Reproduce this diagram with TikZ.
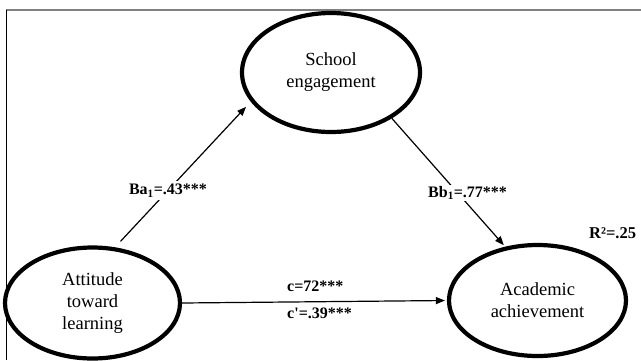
\documentclass[tikz,border=0pt]{standalone}
\usepackage{fontspec}
\setmainfont{Liberation Serif}
\usetikzlibrary{arrows.meta, shapes.geometric}

\begin{document}
\begin{tikzpicture}[x = 1pt, y = -1pt]
\tikzstyle{VarStyle}=[shape = ellipse,
							line width = 4.2pt,
							inner sep = 0pt,
							align = center,
							font = \fontsize{18.5}{22}\selectfont,
                         					draw]
\tikzstyle{PathStyle}=[line width = 1.2pt,
							-{Triangle[length = 9pt, width = 7pt]}]
\tikzstyle{CoefStyle}=[font = \fontsize{16}{18}\selectfont\bfseries,
							inner sep = 3pt,
							fill = white]
\useasboundingbox (0,0) rectangle (641,360);
\clip (0,0) rectangle (641,360);
% frame
\draw[gray, line width = 1.4pt] (6,10) -- (641,10);
\draw[line width = 1.2pt] (6.5,9.5) -- (6.5,360);
% variables
\node[VarStyle, minimum width = 178pt, minimum height = 119pt] (sch) at (331,72.5) {School\\engagement};
\node[VarStyle, minimum width = 175pt, minimum height = 111pt] (att) at (92.5,303) {Attitude\\toward\\learning};
\node[VarStyle, minimum width = 177pt, minimum height = 111pt] (aca) at (537.5,300.5) {Academic\\achievement};
% paths
\draw[PathStyle, shorten <= 8pt, shorten >= 7pt] (att.68) -- (sch.200)
	node[CoefStyle, pos = .39] (a1) {Ba\textsubscript{1}=.43***};
\draw[PathStyle, shorten >= 2pt] (sch.-37) -- (aca.121)
	node[CoefStyle, pos = .58, xshift = 10pt, inner sep = 1pt] (b1) {Bb\textsubscript{1}=.77***};
\draw[PathStyle, shorten >= 2pt] (att.east) -- (aca.west);
\node[CoefStyle, anchor = west, fill = none] (c) at (284,286) {c=72***};
\node[CoefStyle, anchor = west, fill = none] (cp) at (284,313) {c\textquotesingle=.39***};
\node[CoefStyle, anchor = west, fill = none, font = \fontsize{16.5}{18}\selectfont\bfseries] (r2) at (586,233) {R²=.25};
\end{tikzpicture}
\end{document}
